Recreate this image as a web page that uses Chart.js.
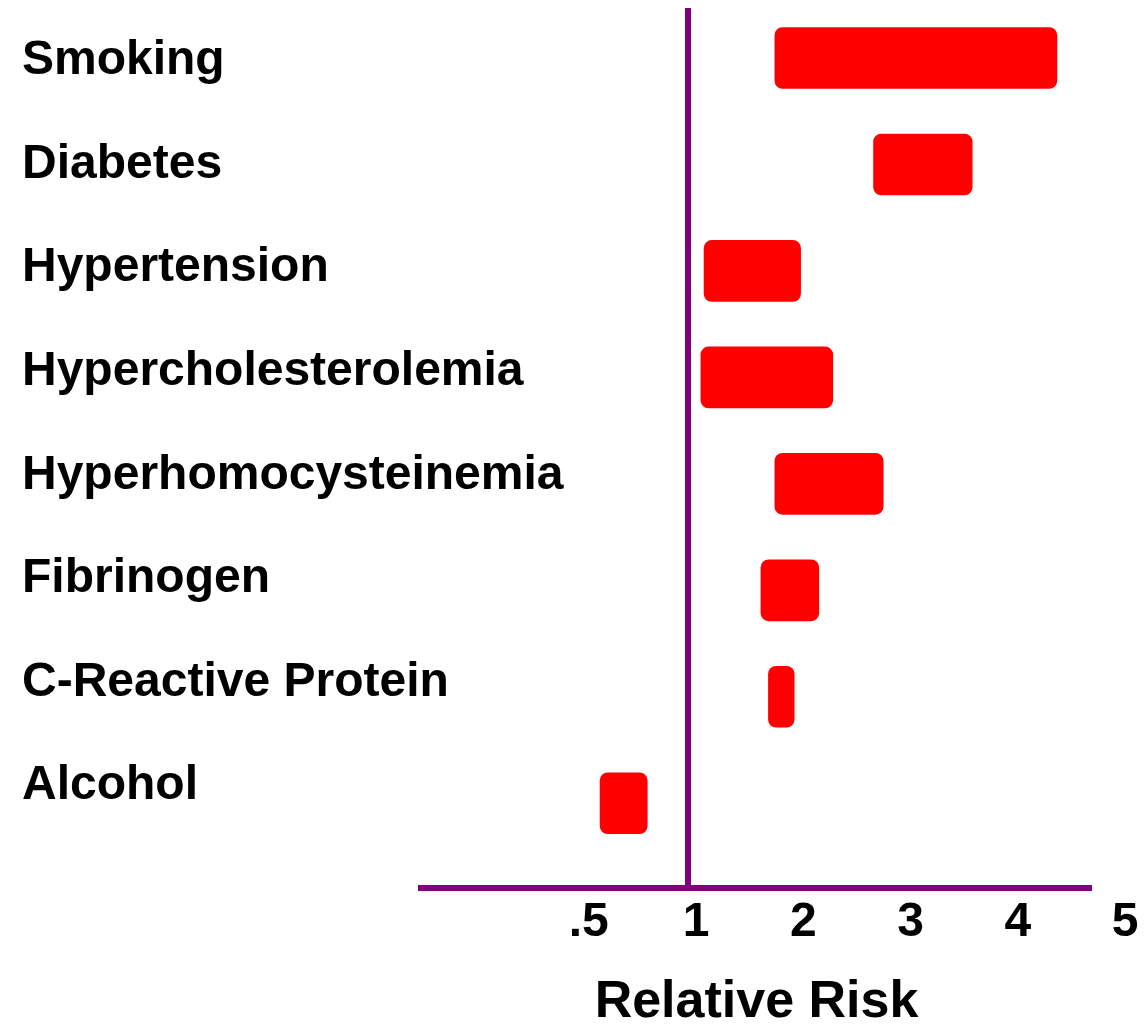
<!DOCTYPE html>
<html>
<head>
<meta charset="utf-8">
<script src="https://cdn.jsdelivr.net/npm/chart.js@4.4.1/dist/chart.umd.min.js"></script>
<style>
  html, body { margin: 0; padding: 0; background: #ffffff; }
  #wrap { width: 1146px; height: 1024px; position: relative; }
</style>
</head>
<body>
<div id="wrap"><canvas id="c"></canvas></div>
<script>
// ---- data ----
const categories = ['Smoking', 'Diabetes', 'Hypertension', 'Hypercholesterolemia',
  'Hyperhomocysteinemia', 'Fibrinogen', 'C-Reactive Protein', 'Alcohol'];
const riskLow  = [1.81, 2.73, 1.15, 1.12, 1.81, 1.68, 1.75, 0.59];
const riskHigh = [4.44, 3.65, 2.05, 2.35, 2.82, 2.22, 1.99, 0.81];
const tickValues = [0.5, 1, 2, 3, 4, 5];
const tickLabels = ['.5', '1', '2', '3', '4', '5'];
const axisTitle = 'Relative Risk';

// The axis spaces .5, 1, 2, 3, 4, 5 evenly: map relative risk to axis position.
function pos(v) { return v >= 1 ? v : (v - 0.5) / 0.5; }

const PURPLE = '#800080';
const RED = '#ff0000';
const FONT = "'Liberation Sans', Arial, Helvetica, sans-serif";
const refPos = pos(1);
const tickPositions = tickValues.map(pos);

const bars = categories.map((c, i) => ({ y: i, x: [pos(riskLow[i]), pos(riskHigh[i])] }));

new Chart(document.getElementById('c'), {
  type: 'bar',
  data: {
    labels: categories,
    datasets: [{
      data: bars,
      xAxisID: 'x',
      yAxisID: 'yb',
      backgroundColor: RED,
      borderWidth: 0,
      borderRadius: 8,
      borderSkipped: false,
      barThickness: 61
    }]
  },
  options: {
    indexAxis: 'y',
    responsive: true,
    maintainAspectRatio: false,
    animation: false,
    layout: { padding: { left: 22, right: 54, top: 8, bottom: 0 } },
    plugins: { legend: { display: false }, tooltip: { enabled: false } },
    scales: {
      x: {
        type: 'linear',
        position: 'bottom',
        offset: false,
        beginAtZero: false,
        min: -1.4895,
        max: 4.767,
        afterBuildTicks: (s) => { s.ticks = tickPositions.map(v => ({ value: v })); },
        afterFit: (s) => { s.height = 136; },
        grid: {
          display: true,
          drawTicks: false,
          drawOnChartArea: true,
          color: (ctx) => (ctx.tick && Math.abs(ctx.tick.value - refPos) < 1e-9) ? PURPLE : 'rgba(0,0,0,0)',
          lineWidth: (ctx) => (ctx.tick && Math.abs(ctx.tick.value - refPos) < 1e-9) ? 6 : 0
        },
        border: { display: true, color: PURPLE, width: 6 },
        ticks: {
          autoSkip: false,
          maxRotation: 0,
          minRotation: 0,
          padding: 6,
          labelOffset: 8,
          color: '#000000',
          font: { family: FONT, size: 48, weight: 'bold' },
          callback: (v) => {
            const k = tickPositions.findIndex(p => Math.abs(p - v) < 1e-9);
            return k >= 0 ? tickLabels[k] : '';
          }
        },
        title: {
          display: true,
          text: axisTitle,
          color: '#000000',
          font: { family: FONT, size: 52, weight: 'bold', lineHeight: 0.84 },
          padding: { top: 0, bottom: 0 }
        }
      },
      y: {
        type: 'linear',
        position: 'left',
        offset: false,
        reverse: true,
        min: -0.5117,
        max: 7.985,
        afterBuildTicks: (s) => { s.ticks = categories.map((c, i) => ({ value: i })); },
        afterFit: (s) => { s.width = 399; s.paddingTop = 0; s.paddingBottom = 0; },
        grid: { display: false, drawTicks: false, offset: false },
        border: { display: false },
        ticks: {
          autoSkip: false,
          mirror: true,
          crossAlign: 'near',
          padding: -399,
          color: '#000000',
          font: { family: FONT, size: 48, weight: 'bold' },
          callback: (v) => categories[Math.round(v)] || ''
        }
      },
      yb: {
        type: 'linear',
        axis: 'y',
        position: 'left',
        display: false,
        offset: false,
        reverse: true,
        min: -0.4696,
        max: 7.796,
        grid: { offset: false }
      }
    }
  }
});
</script>
</body>
</html>
